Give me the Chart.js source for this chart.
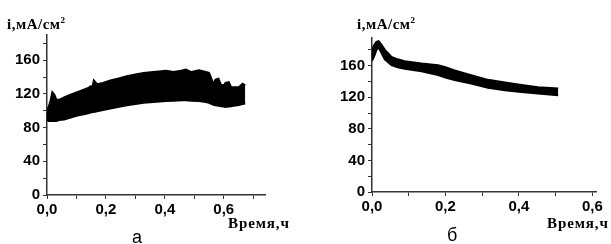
<!DOCTYPE html>
<html>
<head>
<meta charset="utf-8">
<script src="https://cdn.jsdelivr.net/npm/chart.js@4"></script>
<style>
  body { margin: 0; background: #fff; }
  #page { position: relative; width: 611px; height: 244px; overflow: hidden; }
  canvas { position: absolute; top: 0; }
  .ttl { position: absolute; font-family: "Liberation Serif", serif; font-weight: bold; font-size: 15px; line-height: 15px; color: #000; white-space: nowrap; letter-spacing: 0.5px; }
  .ttl sup { font-size: 9px; vertical-align: 6px; line-height: 0; }
  .tx { letter-spacing: 0.9px; }
  .pl { position: absolute; font-family: "Liberation Sans", Arial, sans-serif; font-size: 18px; line-height: 18px; color: #000; }
</style>
</head>
<body>
<div id="page">
  <canvas id="chartA" width="305" height="244" style="left:0"></canvas>
  <canvas id="chartB" width="306" height="244" style="left:305px"></canvas>
  <div class="ttl" style="left:7px;top:17px">i,мА/см<sup>2</sup></div>
  <div class="ttl" style="left:357px;top:17px">i,мА/см<sup>2</sup></div>
  <div class="ttl tx" style="left:228px;top:216px">Время,ч</div>
  <div class="ttl tx" style="left:547px;top:216px">Время,ч</div>
  <div class="pl" style="left:132px;top:228px">а</div>
  <div class="pl" style="left:447px;top:226px">б</div>
</div>
<script>
// panel а: current density band (lower / upper envelope), hours
const timeA = [0, 0.005, 0.012, 0.018, 0.025, 0.032, 0.041, 0.058, 0.08, 0.103, 0.125, 0.14, 0.148, 0.155, 0.159, 0.17, 0.19, 0.215, 0.24, 0.271, 0.3, 0.328, 0.361, 0.404, 0.43, 0.459, 0.471, 0.49, 0.516, 0.539, 0.55, 0.565, 0.572, 0.582, 0.59, 0.6, 0.606, 0.617, 0.625, 0.634, 0.651, 0.664, 0.673];
const lowerA = [89, 88, 88, 88, 88, 88, 89, 89.5, 92, 94.5, 96, 97, 98, 98.5, 98.6, 99.5, 101, 102.6, 104.5, 106.5, 108, 109.5, 110.5, 111.5, 112, 112.5, 112.5, 112, 111.5, 110.5, 109.5, 107, 106.5, 106, 105.5, 105, 104.5, 105, 105.5, 106, 107, 108, 108.6];
const upperA = [100, 104, 112, 122, 119, 113, 113, 116, 119, 122, 125, 127, 129, 129, 136, 131.5, 133, 136, 138, 141, 143, 145, 146, 147.4, 146, 148, 149, 146, 148, 146, 145, 132, 137, 138, 131, 130, 133, 134, 128, 128, 128, 132, 130];

// panel б
const timeB = [0, 0.006, 0.012, 0.018, 0.025, 0.035, 0.053, 0.07, 0.089, 0.135, 0.18, 0.2, 0.225, 0.27, 0.316, 0.362, 0.407, 0.452, 0.507];
const lowerB = [166, 172, 180, 183, 177, 168, 160.6, 158, 156, 153, 148, 145, 141.8, 137.4, 132, 128.9, 126.7, 124.6, 122.5];
const upperB = [180, 186, 190, 191, 187, 180, 171, 168, 165.6, 162.7, 160.6, 158, 154, 148, 142, 138.6, 135.6, 132.7, 131];

const xTicksStep = 0.1;
const yTicksStep = 20;

function pts(t, v) {
  return t.map((x, i) => ({ x: x, y: v[i] }));
}

function makeChart(id, t, lo, hi, xMax, yMax, area) {
  const cv = document.getElementById(id);
  const W = cv.width, H = cv.height;
  const tickFont = { family: "Liberation Sans, Arial, sans-serif", size: 15, weight: "bold" };
  return new Chart(cv.getContext("2d"), {
    type: "line",
    data: {
      datasets: [
        { data: pts(t, lo), borderColor: "#000", borderWidth: 2, pointRadius: 0, fill: false },
        { data: pts(t, hi), borderColor: "#000", borderWidth: 2, pointRadius: 0, fill: "-1", backgroundColor: "#000" },
      ],
    },
    options: {
      responsive: false,
      animation: false,
      layout: { padding: { top: area.top, right: W - area.right, left: 0, bottom: 0 } },
      plugins: { legend: { display: false }, tooltip: { enabled: false } },
      scales: {
        x: {
          type: "linear",
          min: 0,
          max: xMax,
          afterFit: (s) => { s.height = H - area.bottom; },
          border: { display: true, color: "#333", width: 1.5 },
          grid: { drawOnChartArea: false, tickLength: 4, tickColor: "#333" },
          ticks: {
            stepSize: xTicksStep,
            includeBounds: false,
            autoSkip: false,
            maxRotation: 0,
            padding: 2,
            color: "#000",
            font: tickFont,
            callback: (v) => {
              const k = Math.round(v * 10);
              return k % 2 === 0 ? (k / 10).toFixed(1).replace(".", ",") : "";
            },
          },
        },
        y: {
          min: 0,
          max: yMax,
          afterFit: (s) => { s.width = area.left; },
          border: { display: true, color: "#333", width: 1.5 },
          grid: { drawOnChartArea: false, tickLength: 4, tickColor: "#333" },
          ticks: {
            stepSize: yTicksStep,
            includeBounds: false,
            autoSkip: false,
            padding: 3,
            color: "#000",
            font: tickFont,
            callback: (v) => (v % 40 === 0 ? String(v) : ""),
          },
        },
      },
    },
  });
}

makeChart("chartA", timeA, lowerA, upperA, 0.74, 190, { left: 47, right: 265, top: 35, bottom: 195 });
makeChart("chartB", timeB, lowerB, upperB, 0.61, 195, { left: 67, right: 291, top: 38, bottom: 192 });
</script>
</body>
</html>
